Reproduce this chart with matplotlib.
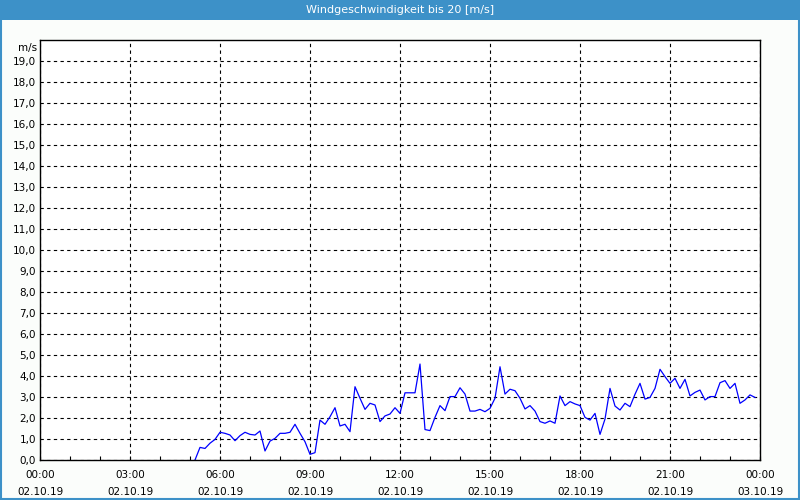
import numpy as np
import pandas as pd
import matplotlib
matplotlib.use('Agg')
import matplotlib.pyplot as plt
from matplotlib.patches import Rectangle
from matplotlib.ticker import MultipleLocator, FixedLocator

plt.rcParams.update({
    'font.family': ['DejaVu Sans'],
    'font.size': 7.5,
})

TITLE = 'Windgeschwindigkeit bis 20 [m/s]'
UNIT = 'm/s'

# 10-Minuten-Werte ab 02.10.19 05:10
START = '2019-10-02 05:10'
wind = [
    0.0, 0.6, 0.55, 0.8, 0.98,
    1.32, 1.27, 1.19, 0.92, 1.16, 1.32,
    1.22, 1.19, 1.38, 0.43, 0.9, 1.03,
    1.27, 1.27, 1.32, 1.7, 1.27, 0.87,
    0.27, 0.35, 1.9, 1.7, 2.06, 2.49,
    1.62, 1.7, 1.35, 3.49, 2.94, 2.41,
    2.7, 2.62, 1.83, 2.1, 2.19, 2.49,
    2.22, 3.2, 3.2, 3.2, 4.57, 1.45,
    1.4, 2.03, 2.59, 2.35, 3.02, 3.02,
    3.44, 3.14, 2.33, 2.33, 2.41, 2.3,
    2.46, 2.94, 4.44, 3.14, 3.37, 3.3,
    2.94, 2.43, 2.59, 2.33, 1.83, 1.75,
    1.86, 1.75, 3.05, 2.59, 2.78, 2.67,
    2.59, 2.03, 1.9, 2.22, 1.22, 1.95,
    3.41, 2.57, 2.38, 2.7, 2.54, 3.13,
    3.65, 2.9, 2.98, 3.41, 4.32, 3.97,
    3.65, 3.89, 3.41, 3.84, 3.05, 3.22,
    3.33, 2.86, 3.02, 3.02, 3.68, 3.78,
    3.41, 3.65, 2.7, 2.86, 3.1, 2.98,
]

x_ticks_h = [0, 3, 6, 9, 12, 15, 18, 21, 24]
x_labels = ['00:00\n02.10.19', '03:00\n02.10.19', '06:00\n02.10.19',
            '09:00\n02.10.19', '12:00\n02.10.19', '15:00\n02.10.19',
            '18:00\n02.10.19', '21:00\n02.10.19', '00:00\n03.10.19']

C_BLUE = '#3d91c8'
C_BG = '#fbfdfb'

t = pd.date_range(START, periods=len(wind), freq='10min')
hours = (t - pd.Timestamp('2019-10-02')).total_seconds() / 3600.0

fig = plt.figure(figsize=(8, 5), dpi=100, facecolor=C_BG)

# Rahmen + Titelleiste
fig.patches.append(Rectangle((0, 0.96), 1, 0.04, transform=fig.transFigure,
                             facecolor=C_BLUE, edgecolor='none', zorder=0))
fig.patches.append(Rectangle((0.0012, 0.002), 0.9976, 0.996, transform=fig.transFigure,
                             facecolor='none', edgecolor=C_BLUE, lw=1.5, zorder=1))
fig.text(0.5, 0.98, TITLE, ha='center', va='center', color='white', fontsize=8)

ax = fig.add_axes([0.05, 0.08, 0.9, 0.84])
ax.set_facecolor('white')
ax.plot(hours, wind, color='#0000ff', lw=0.9)

ax.set_xlim(0, 24)
ax.set_ylim(0, 20)
ax.xaxis.set_major_locator(FixedLocator(x_ticks_h))
ax.set_xticklabels(x_labels, linespacing=1.9)
ax.xaxis.set_minor_locator(MultipleLocator(1))
ax.set_yticks(range(0, 20))
ax.set_yticklabels([f'{v},0' for v in range(0, 20)])
ax.text(-0.004, 19.85, UNIT, transform=ax.get_yaxis_transform(),
        ha='right', va='top', fontsize=7.5)

ax.tick_params(axis='x', which='both', direction='in', length=3, pad=7, width=0.8)
ax.tick_params(axis='y', length=0, pad=3)
ax.grid(True, which='major', color='black', ls=(0, (3, 3)), lw=0.8)
for s in ax.spines.values():
    s.set_color('black')
    s.set_linewidth(1.0)

fig.savefig('out.png', dpi=100, facecolor=C_BG)
